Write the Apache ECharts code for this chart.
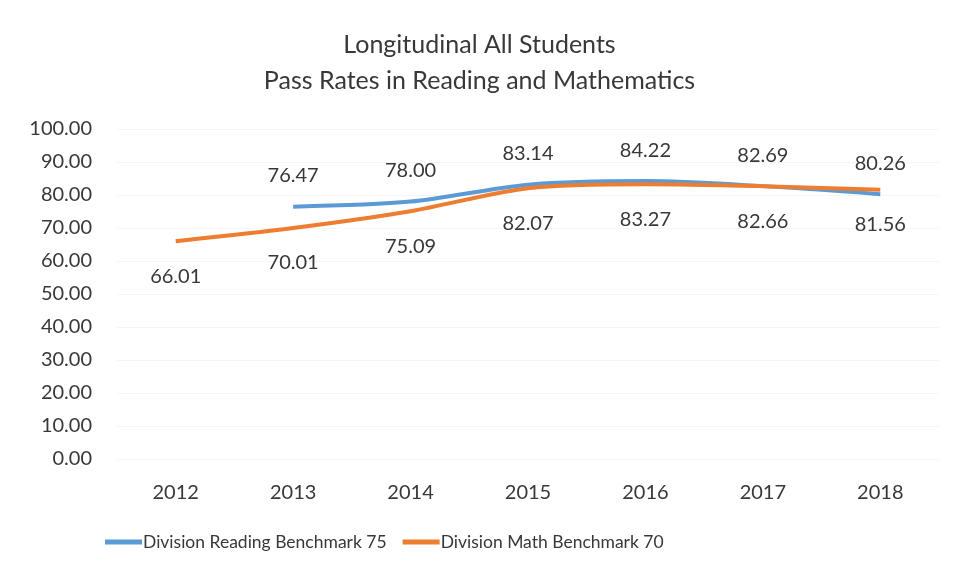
<!DOCTYPE html>
<html>
<head>
<meta charset="utf-8">
<script src="https://cdn.jsdelivr.net/npm/echarts@6/dist/echarts.min.js"></script>
<style>
  html, body { margin: 0; padding: 0; background: #ffffff; }
  #chart { width: 959px; height: 579px; }
</style>
</head>
<body>
<div id="chart"></div>
<script>
// School years on the horizontal axis
const years = ['2012', '2013', '2014', '2015', '2016', '2017', '2018'];
// Reading pass rates (no reading value reported for 2012)
const readingRates = [null, 76.47, 78.00, 83.14, 84.22, 82.69, 80.26];
// Mathematics pass rates
const mathRates = [66.01, 70.01, 75.09, 82.07, 83.27, 82.66, 81.56];
const readingName = 'Division Reading Benchmark 75';
const mathName = 'Division Math Benchmark 70';

const textColor = '#383838';
const fontFamily = 'Lato, "Open Sans", "Liberation Sans", sans-serif';

const chart = echarts.init(document.getElementById('chart'));
chart.setOption({
  animation: false,
  backgroundColor: '#ffffff',
  textStyle: { fontFamily: fontFamily, color: textColor },
  title: {
    text: 'Longitudinal All Students\nPass Rates in Reading and Mathematics',
    left: 'center',
    top: 22,
    textStyle: {
      fontFamily: fontFamily,
      fontSize: 25,
      fontWeight: 'normal',
      color: textColor,
      lineHeight: 36
    }
  },
  legend: {
    bottom: 23,
    left: 100,
    itemWidth: 37,
    itemHeight: 5,
    itemGap: 16,
    icon: 'rect',
    textStyle: { fontFamily: fontFamily, fontSize: 17.5, color: textColor, padding: [0, 0, 0, -4] },
    data: [readingName, mathName]
  },
  grid: { left: 117, right: 20, top: 129, bottom: 120 },
  xAxis: {
    type: 'category',
    data: years,
    boundaryGap: true,
    axisLine: { show: false },
    axisTick: { show: false },
    axisLabel: { fontFamily: fontFamily, fontSize: 20, color: textColor, margin: 24 }
  },
  yAxis: {
    type: 'value',
    min: 0,
    max: 100,
    interval: 10,
    axisLine: { show: false },
    axisTick: { show: false },
    splitLine: { lineStyle: { color: '#f5f5f5', width: 1 } },
    axisLabel: {
      fontFamily: fontFamily,
      fontSize: 20,
      color: textColor,
      margin: 25,
      formatter: v => v.toFixed(2)
    }
  },
  series: [
    {
      name: readingName,
      type: 'line',
      data: readingRates,
      smooth: 0.3,
      showSymbol: true,
      symbol: 'circle',
      symbolSize: 0,
      lineStyle: { color: '#5b9bd5', width: 4 },
      itemStyle: { color: '#5b9bd5' },
      label: {
        show: true,
        position: 'top',
        distance: 21,
        fontFamily: fontFamily,
        fontSize: 20,
        color: textColor,
        formatter: p => p.value == null ? '' : Number(p.value).toFixed(2)
      },
      z: 2
    },
    {
      name: mathName,
      type: 'line',
      data: mathRates,
      smooth: 0.3,
      showSymbol: true,
      symbol: 'circle',
      symbolSize: 0,
      lineStyle: { color: '#ed7d31', width: 4 },
      itemStyle: { color: '#ed7d31' },
      label: {
        show: true,
        position: 'bottom',
        distance: 25,
        fontFamily: fontFamily,
        fontSize: 20,
        color: textColor,
        formatter: p => Number(p.value).toFixed(2)
      },
      z: 3
    }
  ]
});
</script>
</body>
</html>
